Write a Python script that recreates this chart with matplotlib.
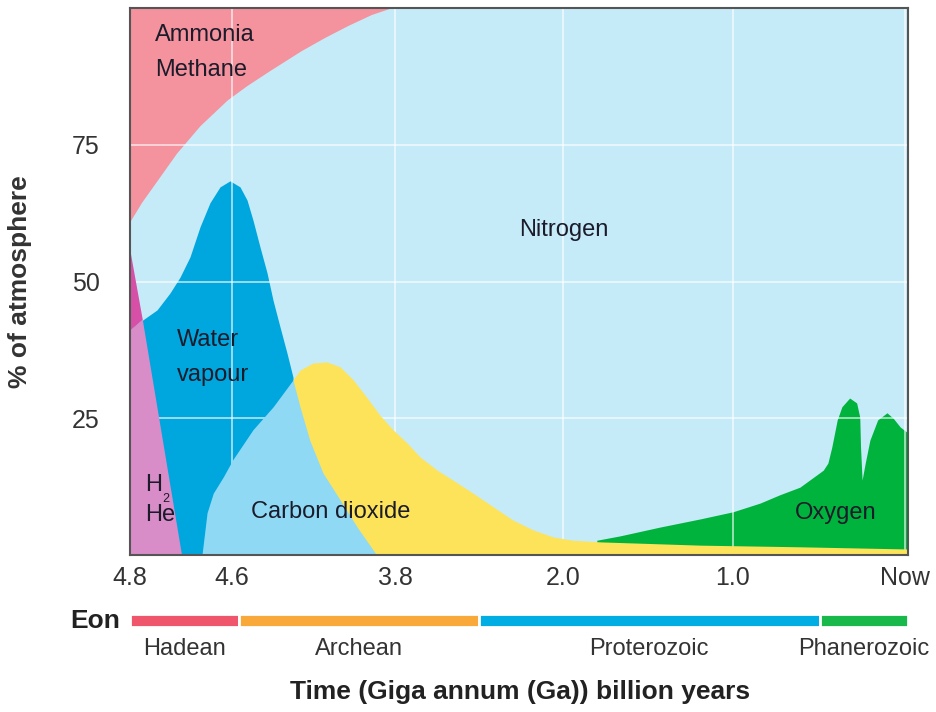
import matplotlib.pyplot as plt
import matplotlib.font_manager as fm

# font: prefer a narrow sans if present
names = set(f.name for f in fm.fontManager.ttflist)
FONT = 'Liberation Sans Narrow' if 'Liberation Sans Narrow' in names else 'Liberation Sans'
plt.rcParams['font.family'] = [FONT, 'DejaVu Sans']

# x is a position along the (non-linear) time axis, 0 = 4.8 Ga, 100 = now
tick_pos = [0, 13.1, 34.1, 55.7, 77.5, 99.6]
tick_lab = ['4.8', '4.6', '3.8', '2.0', '1.0', 'Now']

# ammonia / methane lower edge (above it is NH3/CH4)
nh3_x = [0, 1.5, 3.5, 6, 9, 12.5, 15, 18, 22, 25, 28, 31, 33.5]
nh3_y = [61, 64.5, 68.5, 73.5, 78.5, 83.2, 85.8, 88.6, 92.2, 94.6, 96.8, 98.8, 100]

# water vapour upper edge
wat_x = [0, 1.67, 3.47, 5.14, 6.43, 7.71, 9.0, 10.28, 11.57, 12.85, 14.14, 15.04,
         15.81, 16.71, 17.61, 18.38, 19.28, 20.18, 20.95]
wat_y = [41.1, 43.0, 44.8, 47.9, 50.8, 54.5, 60.0, 64.4, 67.3, 68.4, 67.3, 64.9,
         61.2, 56.3, 51.6, 46.6, 41.7, 36.9, 32.5]

# carbon dioxide upper edge
co2_x = [9.25, 9.9, 10.7, 12.0, 13.2, 15.8, 18.4, 20.95, 21.85, 23.1, 24.8, 27.0, 29.2, 31.7]
co2_y = [0, 7.7, 11.3, 14.3, 17.4, 22.9, 27.1, 32.0, 27.1, 21.0, 15.0, 10.1, 5.1, 0]

# yellow (CO2 hump, later low residue) upper edge
yel_x = [20.95, 21.85, 23.5, 25.3, 27.0, 28.7, 30.5, 32.1, 33.8, 35.6, 37.3, 39.5, 41.5,
         44.1, 46.7, 49.2, 51.8, 54.4, 56.9, 60.4, 73.3, 86.1, 100]
yel_y = [32.0, 33.8, 35.1, 35.3, 34.4, 32.0, 28.7, 25.6, 22.9, 20.5, 17.9, 15.5, 13.7,
         11.3, 8.8, 6.4, 4.6, 3.3, 2.7, 2.4, 1.8, 1.5, 1.1]

# oxygen upper edge
oxy_x = [60.0, 63.0, 68.1, 73.3, 77.5, 81.0, 83.5, 86.1, 89.1, 89.7, 90.2, 90.9, 91.5,
         92.5, 93.4, 93.8, 93.9, 94.1, 94.5, 95.1, 96.1, 97.3, 98.1, 99.0, 100]
oxy_y = [2.7, 3.5, 5.1, 6.6, 7.9, 9.5, 11.0, 12.4, 15.5, 16.8, 19.7, 24.7, 27.1,
         28.7, 27.8, 25.2, 19.7, 13.7, 16.8, 21.0, 24.7, 26.0, 25.0, 23.4, 22.3]

# H2 / He wedge
h2_lo_x = [0, 0, 1.64, 6.68]
h2_lo_y = [0, 41, 43, 0]
h2_hi_x = [0, 0, 1.64]
h2_hi_y = [41, 56, 43]

eon_names = ['Hadean', 'Archean', 'Proterozoic', 'Phanerozoic']
eon_start = [0, 14.0, 44.85, 88.65]
eon_end = [14.0, 44.85, 88.65, 100]
eon_cols = ['#f0566b', '#f9a83a', '#00aee4', '#19b84b']

fig = plt.figure(figsize=(9.37, 7.12), dpi=100)
ax = fig.add_axes([130/937, 1-555/712, 778/937, 547/712])
ax.set_facecolor('#c6ebf8')

ax.fill_between(nh3_x, nh3_y, 100, color='#f4929e', lw=0, zorder=1)
ax.fill_between(wat_x, 0, wat_y, color='#00a6de', lw=0, zorder=2)
ax.fill_between(oxy_x, 0, oxy_y, color='#00b33d', lw=0, zorder=2)
ax.fill_between(yel_x, 0, yel_y, color='#fde35a', lw=0, zorder=3)
ax.fill_between(co2_x, 0, co2_y, color='#8fd9f5', lw=0, zorder=4)
ax.fill(h2_lo_x, h2_lo_y, color='#d98dc8', lw=0, zorder=5)
ax.fill(h2_hi_x, h2_hi_y, color='#d650a8', lw=0, zorder=5)

ax.set_xlim(0, 100)
ax.set_ylim(0, 100)
ax.set_xticks(tick_pos)
ax.set_xticklabels(tick_lab)
ax.set_yticks([25, 50, 75])
ax.grid(True, color='white', lw=1.2, alpha=0.7, zorder=6)
ax.set_axisbelow(False)
ax.tick_params(length=0, labelsize=18, labelcolor='#333333')
ax.tick_params(axis='x', pad=8)
ax.tick_params(axis='y', pad=22)
for s in ax.spines.values():
    s.set_color('#555555')
    s.set_linewidth(1.5)
    s.set_zorder(7)

ax.set_ylabel('% of atmosphere', fontsize=19, fontweight='bold', color='#333333')
ax.yaxis.set_label_coords(-0.126, 0.5)

tc = '#1b1b2a'
fs = 17
ax.text(3.2, 95.1, 'Ammonia', fontsize=fs, color=tc, va='center', zorder=8)
ax.text(3.2, 88.7, 'Methane', fontsize=fs, color=tc, va='center', zorder=8)
ax.text(55.7, 59.4, 'Nitrogen', fontsize=fs, color=tc, ha='center', va='center', zorder=8)
ax.text(6.0, 39.3, 'Water', fontsize=fs, color=tc, va='center', zorder=8)
ax.text(6.0, 32.9, 'vapour', fontsize=fs, color=tc, va='center', zorder=8)
ax.text(1.9, 12.8, 'H', fontsize=fs, color=tc, va='center', zorder=8)
ax.text(4.1, 10.3, '2', fontsize=9, color=tc, va='center', zorder=8)
ax.text(1.9, 7.3, 'He', fontsize=fs, color=tc, va='center', zorder=8)
ax.text(25.8, 7.9, 'Carbon dioxide', fontsize=fs, color=tc, ha='center', va='center', zorder=8)
ax.text(90.7, 7.7, 'Oxygen', fontsize=fs, color=tc, ha='center', va='center', zorder=8)

# eon bar
ea = fig.add_axes([130/937, 1-627/712, 778/937, 13/712])
ea.barh(0, [e - s for s, e in zip(eon_start, eon_end)], left=eon_start, height=1,
        color=eon_cols, edgecolor='white', lw=2)
ea.set_xlim(0, 100)
ea.set_ylim(-0.5, 0.5)
ea.axis('off')
ea.text(-1.3, 0, 'Eon', fontsize=19, fontweight='bold', color='#222222', ha='right', va='center')
for n, s, e in zip(eon_names, eon_start, eon_end):
    ea.text((s + e) / 2, -2.2, n, fontsize=17, color='#333333', ha='center', va='center')

fig.text(520/937, 1-692/712, 'Time (Giga annum (Ga)) billion years', fontsize=19,
         fontweight='bold', color='#222222', ha='center', va='center')

fig.savefig('out.png', dpi=100)
